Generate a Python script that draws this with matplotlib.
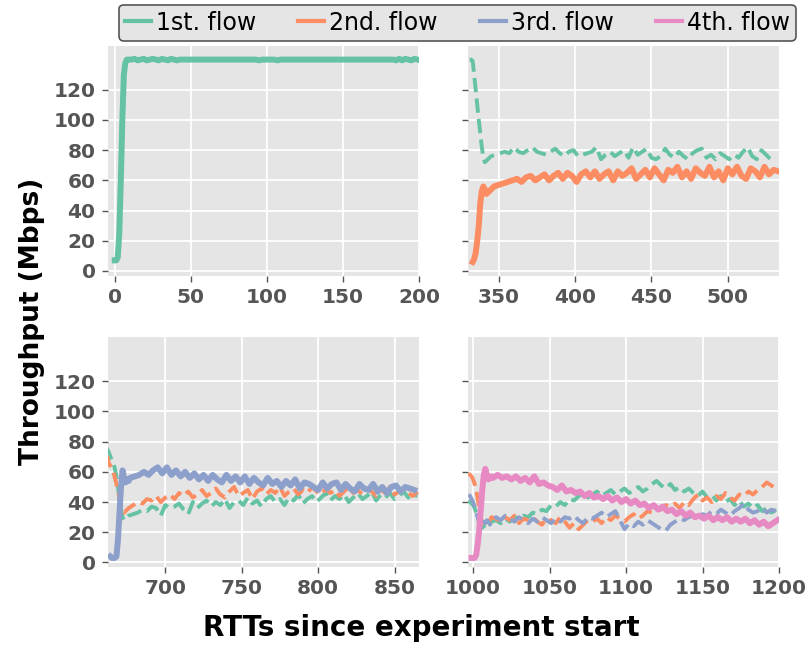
import numpy as np
import matplotlib
matplotlib.use("Agg")
import matplotlib.pyplot as plt
from matplotlib.lines import Line2D

# ---------------- data ----------------
flow_names = ["1st. flow", "2nd. flow", "3rd. flow", "4th. flow"]
flow_colors = ["#66c2a5", "#fc8d62", "#8da0cb", "#e78ac3"]

y_ticks = [0, 20, 40, 60, 80, 100, 120]
x_ticks_tl = [0, 50, 100, 150, 200]
x_ticks_tr = [350, 400, 450, 500]
x_ticks_bl = [700, 750, 800, 850]
x_ticks_br = [1000, 1050, 1100, 1150, 1200]

# Panel 1 (top-left): only flow 1
tl_f1_start = 0
tl_f1_fast = [7, 7, 9, 25, 60, 100, 130, 138, 140, 140]
tl_f1_slow = ([140, 140.5, 139.5, 140, 140.5, 139.5, 140, 140.5, 140, 139.5]
              + [140.5, 140, 139.5, 140.5, 140, 139.5, 140, 140, 140, 140]
              + [140] * 20
              + [140, 140, 139.5, 140, 140, 140, 140, 140, 139.5, 140]
              + [140] * 30
              + [140, 140, 140, 140, 140, 140, 140, 139.5, 140.5, 139.5]
              + [140.5, 140, 139.5, 140.5, 140])

# Panel 2 (top-right): flow 1 (dashed) and flow 2 (solid)
tr_f1_start = 331
tr_f1_fast = [140, 140, 139, 130, 120, 110, 100, 91, 82, 75, 72, 73, 74, 75, 76]
tr_f1_slow = [77, 78, 79, 78, 82, 79, 78, 80, 82, 79, 78, 77, 79, 81, 78, 76,
              79, 80, 76, 77, 78, 79, 82, 74, 77, 79, 76, 78, 80, 75, 82, 77,
              79, 81, 75, 74, 76, 81, 77, 75, 79, 76, 74, 78, 80, 81, 75, 77,
              74, 78, 76, 74, 77, 75, 79, 82, 76, 74, 80, 77, 74, 75]
tr_f2_start = 333
tr_f2_fast = [6, 8, 12, 20, 30, 45, 53, 56, 54, 51, 52, 53, 54, 55, 56]
tr_f2_slow = [57, 58, 59, 60, 61, 59, 62, 63, 60, 62, 64, 60, 63, 65, 61, 65,
              63, 59, 64, 66, 62, 66, 61, 64, 66, 60, 66, 63, 65, 68, 61, 64,
              67, 62, 68, 64, 60, 67, 65, 69, 62, 66, 61, 68, 65, 63, 69, 62,
              66, 60, 68, 64, 69, 63, 61, 68, 66, 62, 69, 64, 67, 66]

# Panel 3 (bottom-left): flows 1, 2 (dashed) and 3 (solid)
bl_f1_start = 661
bl_f1_fast = [77, 75, 73, 70, 68, 66, 62, 57, 50, 42, 35, 30, 28, 29, 30, 31]
bl_f1_slow = [32, 33, 35, 34, 37, 36, 31, 38, 36, 37, 39, 35, 32, 40, 36, 39,
              41, 37, 40, 38, 42, 36, 40, 41, 38, 43, 39, 41, 37, 42, 44, 40,
              42, 38, 43, 41, 45, 39, 42, 44, 40, 43, 46, 41, 44, 42, 45, 40,
              43, 46, 42, 44, 47, 41, 45, 43, 46, 42, 44, 47, 43, 45, 44]
bl_f2_start = 661
bl_f2_fast = [68, 70, 66, 64, 62, 60, 56, 52, 48, 42, 38, 35, 33, 34, 35, 36]
bl_f2_slow = [38, 40, 39, 42, 41, 44, 40, 43, 45, 42, 46, 44, 47, 43, 45, 48,
              44, 46, 49, 45, 43, 47, 50, 44, 46, 48, 42, 47, 49, 45, 48, 46,
              50, 44, 47, 49, 45, 48, 46, 50, 47, 45, 49, 46, 48, 44, 47, 50,
              46, 48, 45, 49, 47, 44, 48, 46, 50, 45, 47, 49, 46, 44, 47]
bl_f3_start = 664
bl_f3_fast = [4, 3, 3, 3, 4, 15, 33, 50, 61, 56, 53, 55, 54, 56]
bl_f3_slow = [57, 58, 60, 58, 61, 63, 59, 63, 58, 61, 57, 60, 56, 59, 55, 58,
              54, 58, 55, 53, 58, 54, 57, 53, 57, 52, 56, 53, 51, 56, 52, 54,
              50, 54, 51, 55, 49, 53, 52, 50, 48, 53, 49, 52, 53, 48, 52, 49,
              47, 52, 49, 48, 52, 47, 50, 46, 50, 51, 47, 50, 49, 48]

# Panel 4 (bottom-right): flows 1, 2, 3 (dashed) and 4 (solid)
br_f1_start = 997
br_f1_fast = [41, 40, 39, 38, 36, 33, 30, 27, 24, 23, 24, 25, 26, 27, 26, 27]
br_f1_slow = [28, 26, 29, 27, 30, 29, 31, 30, 33, 32, 35, 34, 38, 37, 40, 38,
              42, 41, 44, 46, 43, 45, 47, 44, 46, 48, 45, 47, 49, 46, 48, 50,
              47, 49, 52, 54, 51, 49, 52, 48, 50, 47, 49, 46, 44, 47, 43, 45,
              41, 44, 40, 42, 38, 41, 37, 39, 36, 38, 34, 36, 33, 35]
br_f2_start = 997
br_f2_fast = [59, 58, 57, 55, 52, 48, 42, 36, 30, 27, 26, 28, 29, 27, 28, 30]
br_f2_slow = [29, 27, 30, 28, 31, 26, 29, 28, 30, 27, 25, 29, 28, 26, 30, 27,
              23, 26, 22, 25, 28, 27, 29, 26, 30, 28, 31, 29, 27, 30, 32, 29,
              31, 34, 33, 36, 35, 38, 37, 39, 36, 40, 38, 42, 45, 41, 43, 40,
              44, 42, 46, 43, 41, 45, 44, 47, 45, 48, 50, 53, 51, 49]
br_f3_start = 997
br_f3_fast = [45, 44, 42, 40, 37, 33, 30, 26, 23, 25, 27, 26, 28, 27, 25, 28]
br_f3_slow = [30, 28, 31, 29, 27, 30, 28, 26, 29, 27, 30, 28, 26, 29, 27, 30,
              29, 31, 28, 26, 30, 29, 31, 33, 30, 32, 34, 28, 22, 26, 24, 27,
              25, 28, 26, 24, 22, 21, 25, 27, 29, 28, 30, 31, 29, 32, 31, 34,
              32, 35, 33, 31, 34, 36, 39, 35, 33, 34, 36, 33, 35, 34]
br_f4_start = 999
br_f4_fast = [3, 3, 3, 5, 12, 22, 35, 48, 58, 62, 58, 55, 56, 57, 56]
br_f4_slow = [58, 56, 57, 55, 57, 54, 56, 53, 57, 52, 53, 51, 50, 48, 51, 47,
              48, 46, 47, 44, 46, 43, 44, 42, 44, 41, 43, 40, 42, 39, 41, 38,
              39, 36, 38, 35, 37, 34, 35, 32, 34, 31, 33, 30, 31, 29, 31, 28,
              30, 28, 30, 27, 29, 27, 29, 26, 28, 25, 27, 24, 26, 28]

FAST_STEP = 1   # RTTs between samples in the transient part
SLOW_STEP = 3   # RTTs between samples afterwards (TL plateau uses 2)


def series(start, fast, slow, slow_step=SLOW_STEP):
    xf = start + FAST_STEP * np.arange(len(fast))
    xs = xf[-1] + slow_step * (1 + np.arange(len(slow)))
    return np.concatenate([xf, xs]), np.array(fast + slow, dtype=float)


# ---------------- style ----------------
plt.style.use("ggplot")
plt.rcParams["font.family"] = ["DejaVu Sans"]
plt.rcParams["font.weight"] = "bold"

fig, axes = plt.subplots(2, 2, figsize=(8.08, 6.46), dpi=100, sharey=True)
fig.subplots_adjust(left=0.1337, right=0.9641, top=0.9288, bottom=0.1223,
                    wspace=0.158, hspace=0.27)

SOLID_LW = 4.3
DASH_LW = 2.8

panels = [
    (axes[0, 0], (-4.4, 200), x_ticks_tl,
     [(tl_f1_start, tl_f1_fast, tl_f1_slow, 0, "-", 2)]),
    (axes[0, 1], (330, 533.5), x_ticks_tr,
     [(tr_f1_start, tr_f1_fast, tr_f1_slow, 0, "--", SLOW_STEP),
      (tr_f2_start, tr_f2_fast, tr_f2_slow, 1, "-", SLOW_STEP)]),
    (axes[1, 0], (662.5, 866), x_ticks_bl,
     [(bl_f1_start, bl_f1_fast, bl_f1_slow, 0, "--", SLOW_STEP),
      (bl_f2_start, bl_f2_fast, bl_f2_slow, 1, "--", SLOW_STEP),
      (bl_f3_start, bl_f3_fast, bl_f3_slow, 2, "-", SLOW_STEP)]),
    (axes[1, 1], (996.7, 1200), x_ticks_br,
     [(br_f1_start, br_f1_fast, br_f1_slow, 0, "--", SLOW_STEP),
      (br_f2_start, br_f2_fast, br_f2_slow, 1, "--", SLOW_STEP),
      (br_f3_start, br_f3_fast, br_f3_slow, 2, "--", SLOW_STEP),
      (br_f4_start, br_f4_fast, br_f4_slow, 3, "-", SLOW_STEP)]),
]

for ax, xlim, xt, lines in panels:
    ax.set_facecolor("#E5E5E5")
    for start, fast, slow, ci, ls, step in lines:
        x, y = series(start, fast, slow, step)
        ax.plot(x, y, color=flow_colors[ci], ls=ls,
                lw=SOLID_LW if ls == "-" else DASH_LW,
                solid_joinstyle="round", dash_capstyle="butt")
    ax.set_xlim(*xlim)
    ax.set_ylim(-3, 149)
    ax.set_xticks(xt)
    ax.set_yticks(y_ticks)
    ax.grid(True, color="white", lw=1.3)
    ax.set_axisbelow(True)
    for s in ax.spines.values():
        s.set_visible(False)
    ax.tick_params(axis="both", which="major", direction="out", length=4,
                   width=1, color="#555555", labelcolor="#555555",
                   labelsize=14.5, pad=5)
    for lab in ax.get_xticklabels() + ax.get_yticklabels():
        lab.set_fontweight("bold")

fig.text(0.040, 0.503, "Throughput (Mbps)", rotation=90, ha="center",
         va="center", fontsize=19, fontweight="bold", color="black")
fig.text(0.521, 0.028, "RTTs since experiment start", ha="center",
         va="center", fontsize=20, fontweight="bold", color="black")

handles = [Line2D([0], [0], color=c, lw=3) for c in flow_colors]
leg = fig.legend(handles, flow_names, loc="center",
                 bbox_to_anchor=(0.566, 0.965), ncol=4,
                 prop={"size": 17, "weight": "normal"},
                 handlelength=1.1, handletextpad=0.2, columnspacing=1.8,
                 borderpad=0.25, fancybox=True, frameon=True)
leg.get_frame().set_facecolor("#E5E5E5")
leg.get_frame().set_edgecolor("#555555")
leg.get_frame().set_linewidth(1.2)
leg.get_frame().set_alpha(1)
for t in leg.get_texts():
    t.set_color("black")

fig.savefig("out.png", dpi=100)
